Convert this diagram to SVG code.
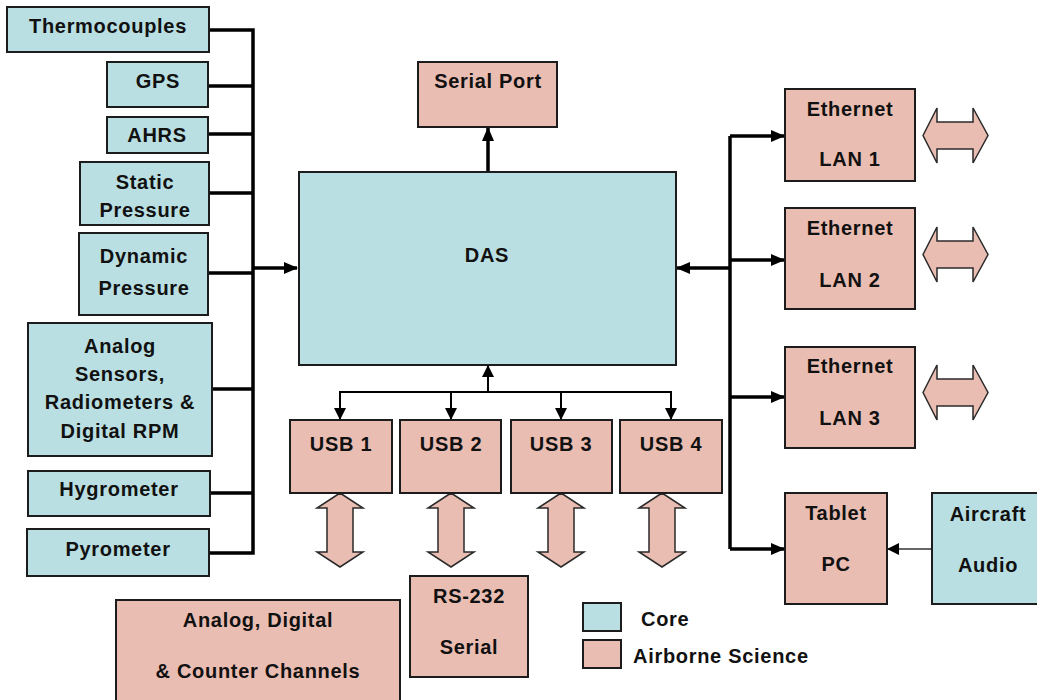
<svg xmlns="http://www.w3.org/2000/svg" width="1037" height="700" viewBox="0 0 1037 700">
<style>
.core{fill:#b9dfe2;stroke:#1c1c1c;stroke-width:2}
.air{fill:#eabdb2;stroke:#1c1c1c;stroke-width:2}
.dbl{fill:#eabdb2;stroke:#2a2a2a;stroke-width:1.5;stroke-linejoin:miter}
text{font-family:"Liberation Sans",Arial,sans-serif;font-weight:bold;font-size:20px;fill:#111;text-anchor:middle;letter-spacing:0.7px}
.bus{stroke:#000;stroke-width:3.5;fill:none}
.thin{stroke:#000;stroke-width:2;fill:none}
.hair{stroke:#333;stroke-width:1.5;fill:none}
</style>
<defs>
<marker id="ah" markerUnits="userSpaceOnUse" markerWidth="14" markerHeight="12" refX="13" refY="6" orient="auto"><path d="M0,0 L14,6 L0,12 Z" fill="#000"/></marker>
<marker id="ahs" markerUnits="userSpaceOnUse" markerWidth="12" markerHeight="12" refX="11" refY="6" orient="auto"><path d="M0,0 L12,6 L0,12 Z" fill="#000"/></marker>
</defs>

<g id="connectors">
<path class="bus" d="M209,30 H253 V553 H209"/>
<path class="bus" d="M208,86 H253 M208,134 H253 M209,193 H253 M208,273 H253 M212,389 H253 M210,493 H253"/>
<path class="bus" d="M253,268 H297" marker-end="url(#ah)"/>
<path class="bus" d="M488,171 V128" marker-end="url(#ah)"/>
<path class="thin" d="M488,392 V366" marker-end="url(#ahs)"/>
<path class="thin" d="M340,420 V392 H671 V420"/>
<path class="thin" d="M340,392 V419" marker-end="url(#ahs)"/>
<path class="thin" d="M451,392 V419" marker-end="url(#ahs)"/>
<path class="thin" d="M561,392 V419" marker-end="url(#ahs)"/>
<path class="thin" d="M671,392 V419" marker-end="url(#ahs)"/>
<path class="bus" d="M730,136 V549"/>
<path class="bus" d="M730,136 H784" marker-end="url(#ah)"/>
<path class="bus" d="M730,260 H784" marker-end="url(#ah)"/>
<path class="bus" d="M730,397 H784" marker-end="url(#ah)"/>
<path class="bus" d="M730,549 H784" marker-end="url(#ah)"/>
<path class="bus" d="M730,268 H677" marker-end="url(#ah)"/>
<path class="hair" d="M932,549 H888" marker-end="url(#ahs)"/>
<polygon class="dbl" points="340,493 363,508 353,508 353,552 363,552 340,567 317,552 327,552 327,508 317,508"/>
<polygon class="dbl" points="451,493 474,508 464,508 464,552 474,552 451,567 428,552 438,552 438,508 428,508"/>
<polygon class="dbl" points="561,493 584,508 574,508 574,552 584,552 561,567 538,552 548,552 548,508 538,508"/>
<polygon class="dbl" points="662,493 685,508 675,508 675,552 685,552 662,567 639,552 649,552 649,508 639,508"/>
<polygon class="dbl" points="923,135.5 937,108 937,122 973,122 973,108 988,135.5 973,163 973,149 937,149 937,163"/>
<polygon class="dbl" points="923,254.5 937,227 937,241 973,241 973,227 988,254.5 973,282 973,268 937,268 937,282"/>
<polygon class="dbl" points="923,392.5 937,365 937,379 973,379 973,365 988,392.5 973,420 973,406 937,406 937,420"/>
</g>

<g id="thermocouples"><rect class="core" x="7" y="7" width="202" height="45"/><text x="108" y="33">Thermocouples</text></g>
<g id="gps"><rect class="core" x="107" y="62" width="101" height="45"/><text x="158" y="88">GPS</text></g>
<g id="ahrs"><rect class="core" x="107" y="117" width="101" height="36"/><text x="157" y="142">AHRS</text></g>
<g id="static-pressure"><rect class="core" x="80" y="162" width="129" height="63"/><text x="145" y="189">Static</text><text x="145" y="217">Pressure</text></g>
<g id="dynamic-pressure"><rect class="core" x="79" y="233" width="129" height="82"/><text x="144" y="263">Dynamic</text><text x="144" y="295">Pressure</text></g>
<g id="analog-sensors"><rect class="core" x="28" y="323" width="184" height="133"/><text x="120" y="353">Analog</text><text x="120" y="381">Sensors,</text><text x="120" y="409">Radiometers &amp;</text><text x="120" y="438">Digital RPM</text></g>
<g id="hygrometer"><rect class="core" x="28" y="471" width="182" height="45"/><text x="119" y="496">Hygrometer</text></g>
<g id="pyrometer"><rect class="core" x="27" y="529" width="182" height="47"/><text x="118" y="556">Pyrometer</text></g>

<g id="serial-port"><rect class="air" x="418" y="62" width="139" height="65"/><text x="488" y="88">Serial Port</text></g>
<g id="das"><rect class="core" x="299" y="172" width="377" height="193"/><text x="487" y="262">DAS</text></g>

<g id="usb1"><rect class="air" x="290" y="420" width="102" height="73"/><text x="341" y="451">USB 1</text></g>
<g id="usb2"><rect class="air" x="400" y="420" width="101" height="73"/><text x="451" y="451">USB 2</text></g>
<g id="usb3"><rect class="air" x="511" y="420" width="101" height="73"/><text x="561" y="451">USB 3</text></g>
<g id="usb4"><rect class="air" x="620" y="420" width="102" height="73"/><text x="671" y="451">USB 4</text></g>

<g id="lan1"><rect class="air" x="785" y="89" width="130" height="92"/><text x="850" y="116">Ethernet</text><text x="850" y="166">LAN 1</text></g>
<g id="lan2"><rect class="air" x="785" y="208" width="130" height="101"/><text x="850" y="235">Ethernet</text><text x="850" y="287">LAN 2</text></g>
<g id="lan3"><rect class="air" x="785" y="347" width="130" height="101"/><text x="850" y="373">Ethernet</text><text x="850" y="425">LAN 3</text></g>
<g id="tablet-pc"><rect class="air" x="785" y="493" width="102" height="111"/><text x="836" y="520">Tablet</text><text x="836" y="571">PC</text></g>
<g id="aircraft-audio"><rect class="core" x="932" y="493" width="112" height="111"/><text x="988" y="521">Aircraft</text><text x="988" y="572">Audio</text></g>

<g id="analog-digital-counter"><rect class="air" x="116" y="600" width="284" height="110"/><text x="258" y="627">Analog, Digital</text><text x="258" y="678">&amp; Counter Channels</text></g>
<g id="rs232-serial"><rect class="air" x="410" y="576" width="118" height="101"/><text x="469" y="603">RS-232</text><text x="469" y="654">Serial</text></g>

<g id="legend">
<rect class="core" x="583" y="603" width="38" height="28"/>
<text x="641" y="626" style="text-anchor:start">Core</text>
<rect class="air" x="583" y="640" width="38" height="28"/>
<text x="633" y="663" style="text-anchor:start">Airborne Science</text>
</g>
</svg>
